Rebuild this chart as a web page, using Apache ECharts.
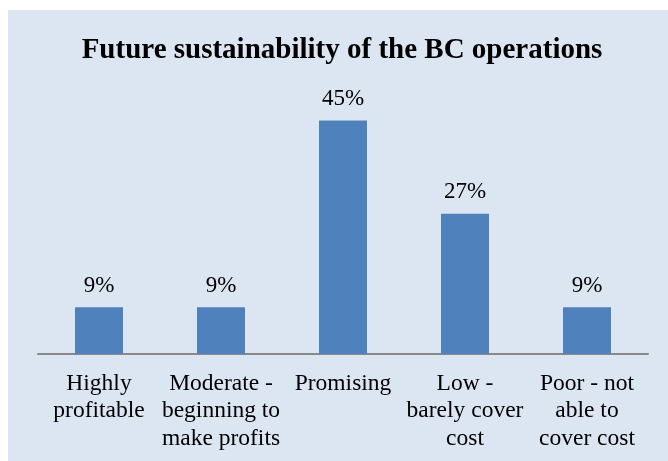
<!DOCTYPE html>
<html>
<head>
<meta charset="utf-8">
<script src="https://cdn.jsdelivr.net/npm/echarts@6/dist/echarts.min.js"></script>
<style>
  html, body { margin: 0; padding: 0; background: #ffffff; }
  #chart { width: 668px; height: 461px; }
</style>
</head>
<body>
<div id="chart"></div>
<script>
// Survey outcome: how respondents rate the future sustainability of BC operations
const categories = [
  'Highly\nprofitable',
  'Moderate -\nbeginning to\nmake profits',
  'Promising',
  'Low -\nbarely cover\ncost',
  'Poor - not\nable to\ncover cost'
];
const shares = [9, 9, 45, 27, 9];
const chartTitle = 'Future sustainability of the BC operations';

const serif = '"Liberation Serif", "Times New Roman", serif';

const chart = echarts.init(document.getElementById('chart'), null, { renderer: 'canvas' });
chart.setOption({
  backgroundColor: '#ffffff',
  animation: false,
  graphic: [{
    type: 'rect',
    z: -10,
    shape: { x: 8, y: 10, width: 660, height: 451 },
    style: { fill: '#dce6f2' }
  }],
  title: {
    text: chartTitle,
    left: 337,
    textAlign: 'center',
    top: 31,
    textStyle: {
      fontFamily: serif,
      fontWeight: 'bold',
      fontSize: 29,
      color: '#000000'
    }
  },
  grid: { left: 38, right: 20, top: 94.5, bottom: 107 },
  xAxis: {
    type: 'category',
    data: categories,
    axisLine: { lineStyle: { color: '#898989', width: 2 } },
    axisTick: { show: false },
    axisLabel: {
      interval: 0,
      margin: 16,
      fontFamily: serif,
      fontSize: 23.5,
      lineHeight: 27.5,
      color: '#000000',
      align: 'center'
    }
  },
  yAxis: {
    type: 'value',
    min: 0,
    max: 50,
    show: false,
    splitLine: { show: false }
  },
  series: [{
    type: 'bar',
    data: shares,
    barWidth: 48,
    itemStyle: { color: '#4f81bd' },
    label: {
      show: true,
      position: 'top',
      distance: 10,
      formatter: '{c}%',
      fontFamily: serif,
      fontSize: 23,
      color: '#000000'
    }
  }]
});
</script>
</body>
</html>
